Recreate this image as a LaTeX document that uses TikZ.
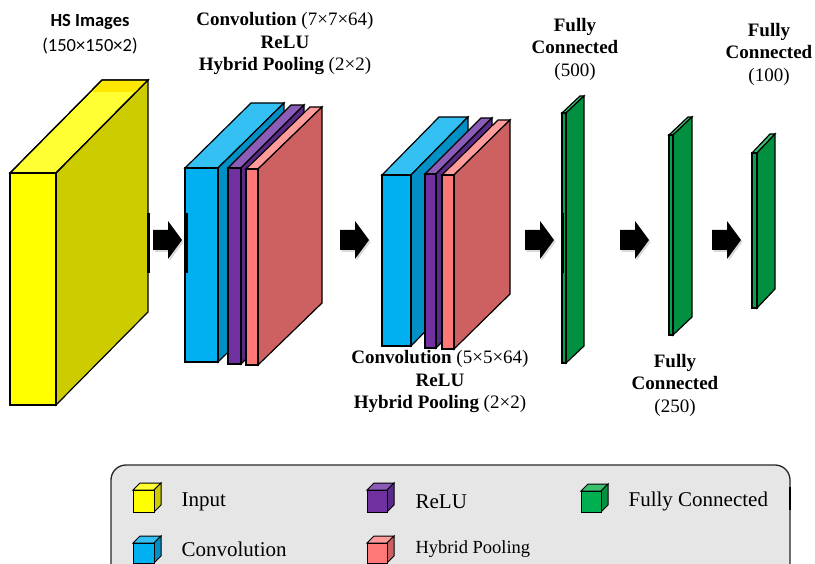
\documentclass[tikz,border=0pt]{standalone}
\usepackage{fontspec}
\setmainfont{Liberation Serif}
\newfontfamily\calibri{Carlito}
\usetikzlibrary{shadows}
\definecolor{yfront}{HTML}{FFFF00}
\definecolor{ytop}{HTML}{FFFF33}
\definecolor{ystrip}{HTML}{FFE800}
\definecolor{yside}{HTML}{CCCC00}
\definecolor{bfront}{HTML}{00B0F0}
\definecolor{btop}{HTML}{35C0F3}
\definecolor{bside}{HTML}{0090C6}
\definecolor{pfront}{HTML}{7030A0}
\definecolor{ptop}{HTML}{8C5DB8}
\definecolor{pside}{HTML}{5A2A88}
\definecolor{rfront}{HTML}{FF7777}
\definecolor{rtop}{HTML}{FF9B9B}
\definecolor{rside}{HTML}{CD6060}
\definecolor{gfront}{HTML}{00A64C}
\definecolor{gtop}{HTML}{3CC070}
\definecolor{gside}{HTML}{009040}
\definecolor{lgfront}{HTML}{00B050}
\definecolor{legendgray}{HTML}{E7E6E6}
\newcommand\cubeblock[9]{%
  \filldraw[fill=#8] (#1,#2) -- ++(#5,-#6) -- ++(#3,0) -- ++(-#5,#6) -- cycle;
  \filldraw[fill=#9] (#1+#3,#2) -- ++(#5,-#6) -- ++(0,#4) -- ++(-#5,#6) -- cycle;
  \filldraw[fill=#7] (#1,#2) rectangle ++(#3,#4);
}
\newcommand\fatarrow[1]{%
  \fill[black, drop shadow={shadow xshift=1.5pt,shadow yshift=-2pt,opacity=.3}]
    (#1,230) -- ++(15,0) -- ++(0,-9) -- ++(14,19) -- ++(-14,19) -- ++(0,-9) -- ++(-15,0) -- cycle;
}
\tikzset{
  lab/.style={align=center, inner sep=0pt, font=\fontsize{19}{22.5}\selectfont},
  leg/.style={anchor=west, inner sep=0pt, font=\fontsize{21}{24}\selectfont},
  bar/.style={line width=3pt, black}
}
\begin{document}
\begin{tikzpicture}[x=1pt,y=-1pt, line width=1.2pt, line join=miter]
\useasboundingbox (0,0) rectangle (815,564);
\clip (0,0) rectangle (815,564);
% input block
\cubeblock{10}{173}{46}{232}{92}{93}{yfront}{ytop}{yside}
\fill[ystrip] (103.5,80.7) -- (147.3,80.7) -- (136,92) -- (92,92) -- cycle;
\draw (10,173) -- (102,80) -- (148,80) -- (56,173);
\draw[bar] (148,213) -- (148,273);
% first conv group
\cubeblock{185}{168}{33}{194}{66}{65}{bfront}{btop}{bside}
\cubeblock{228}{168}{13}{196}{63}{63}{pfront}{ptop}{pside}
\cubeblock{246}{169}{12}{196}{64}{62}{rfront}{rtop}{rside}
\draw[bar] (186,213) -- (186,273);
% second conv group
\cubeblock{382}{175}{29}{171}{57}{58}{bfront}{btop}{bside}
\cubeblock{425}{174}{11}{174}{56}{56}{pfront}{ptop}{pside}
\cubeblock{442}{175}{12}{174}{56}{55}{rfront}{rtop}{rside}
% fully connected
\cubeblock{562}{113}{4}{250}{18}{17}{gfront}{gtop}{gside}
\draw[bar] (562,213) -- (562,273);
\cubeblock{669}{135}{4}{200}{19}{18}{gfront}{gtop}{gside}
\cubeblock{752}{153}{5}{155}{18}{19}{gfront}{gtop}{gside}
% arrows
\fatarrow{153}
\fatarrow{340}
\fatarrow{525}
\fatarrow{620}
\fatarrow{712}
% labels
\node[lab, font=\calibri\fontsize{18.5}{25}\selectfont] (lin) at (90,34) {\textbf{HS Images}\\(150×150×2)};
\node[lab] (lc1) at (285,44) {\textbf{Convolution} (7×7×64)\\\textbf{ReLU}\\\textbf{Hybrid Pooling} (2×2)};
\node[lab] (lc2) at (440,382) {\textbf{Convolution} (5×5×64)\\\textbf{ReLU}\\\textbf{Hybrid Pooling} (2×2)};
\node[lab] (lf1) at (575,49) {\textbf{Fully}\\\textbf{Connected}\\(500)};
\node[lab] (lf2) at (675,385) {\textbf{Fully}\\\textbf{Connected}\\(250)};
\node[lab] (lf3) at (769,54) {\textbf{Fully}\\\textbf{Connected}\\(100)};
% legend
\draw[fill=legendgray, rounded corners=15pt, line width=1.3pt, draw=black!85] (111,465) rectangle (790,580);
\draw[line width=2.5pt] (790,487) -- (790,510);
\begin{scope}[line width=1pt]
\cubeblock{133}{490}{21}{22}{7}{7}{yfront}{ytop}{yside}
\cubeblock{367}{490}{20}{22}{7}{7}{pfront}{ptop}{pside}
\cubeblock{581}{491}{20}{21}{7}{7}{lgfront}{gtop}{gside}
\cubeblock{133}{543}{21}{20}{7}{7}{bfront}{btop}{bside}
\cubeblock{367}{543}{20}{20}{7}{7}{rfront}{rtop}{rside}
\end{scope}
\node[leg] (tin) at (181,502) {Input};
\node[leg] (tre) at (415,502) {ReLU};
\node[leg] (tfc) at (628,501) {Fully Connected};
\node[leg] (tco) at (181,549) {Convolution};
\node[leg, font=\fontsize{18.5}{22}\selectfont] (thp) at (415,549) {Hybrid Pooling};
\end{tikzpicture}
\end{document}
